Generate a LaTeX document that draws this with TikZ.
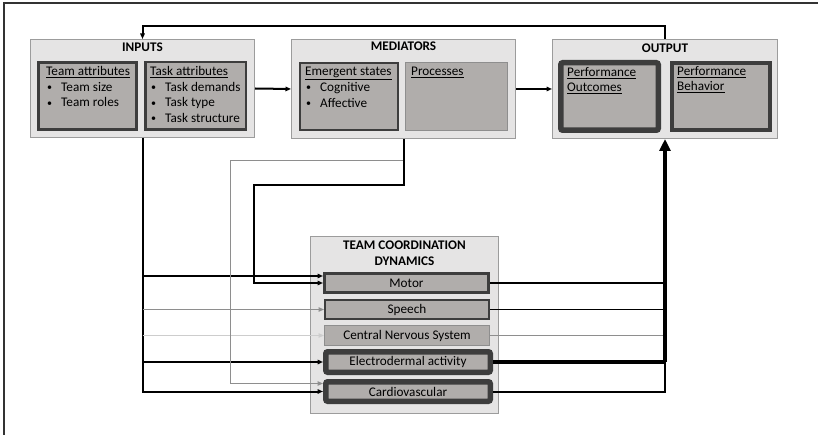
\documentclass[tikz,border=0pt]{standalone}
\usepackage{fontspec}
\setmainfont{Carlito}
\usetikzlibrary{positioning,arrows.meta}

\definecolor{grpfill}{HTML}{E5E4E4}
\definecolor{grpline}{HTML}{9C9C9C}
\definecolor{cellfill}{HTML}{B0ADAB}
\definecolor{cellline}{HTML}{3D3D3D}
\definecolor{wirelight}{HTML}{CDCDCD}
\definecolor{wiregray}{HTML}{8E8E8E}

\newcommand{\boxfont}{\fontsize{13.2}{15.7}\selectfont}
\newcommand{\litem}{\makebox[15pt][l]{\hspace{1pt}\raisebox{0.5pt}{\fontsize{10}{10}\selectfont\textbullet}}}

\tikzset{
  group/.style={draw=grpline, fill=grpfill, line width=1.2pt, anchor=north west, inner sep=0pt},
  cell/.style={draw=cellline, fill=cellfill, anchor=north west, inner sep=0pt},
  grptitle/.style={font=\boxfont\bfseries, inner sep=0pt, align=center},
  list/.style={inner sep=0pt, align=left, anchor=north west},
  tip/.style={-{Triangle[length=5.5pt,width=4.5pt]}},
  wire/.style={line width=2pt},
}

\begin{document}
\begin{tikzpicture}[x=1pt, y=-1pt, font=\boxfont]
\useasboundingbox (0,0) rectangle (818,435);
\draw[line width=1.5pt, black!80] (818,3) -- (4,3) -- (4,435);

% top row
\node[group, minimum width=223.8pt, minimum height=97.8pt] (inputs) at (30,39) {};
\node[group, minimum width=223.8pt, minimum height=98.8pt] (mediators) at (291,39) {};
\node[group, minimum width=224.8pt, minimum height=98.8pt] (output) at (552,39) {};
\node[grptitle, below=4pt of inputs.north] {INPUTS};
\node[grptitle, below=3pt of mediators.north] {MEDIATORS};
\node[grptitle, below=5pt of output.north] {OUTPUT};

\node[cell, line width=3pt, minimum width=98pt, minimum height=67pt] (team) at (37,61) {};
\node[cell, line width=2.5pt, minimum width=100.5pt, minimum height=67.5pt] (task) at (144,61) {};
\node[cell, line width=1.8pt, minimum width=98.2pt, minimum height=67.2pt] (emergent) at (299,62) {};
\node[cell, draw=wiregray, line width=1pt, minimum width=102pt, minimum height=68pt] (processes) at (405,62) {};
\node[cell, line width=5.5pt, rounded corners=2pt, minimum width=97.5pt, minimum height=67.5pt] (outcomes) at (558,60) {};
\node[cell, line width=4pt, minimum width=98pt, minimum height=67pt] (behavior) at (670,61) {};

\node[list, below right=5pt and 9pt of team.north west] {\underline{Team attributes}\\\litem Team size\\\litem Team roles};
\node[list, below right=5pt and 6pt of task.north west] {\underline{Task attributes}\\\litem Task demands\\\litem Task type\\\litem Task structure};
\node[list, below right=5pt and 6pt of emergent.north west] {\underline{Emergent states}\\\litem Cognitive\\\litem Affective};
\node[list, below right=5pt and 6pt of processes.north west] {\underline{Processes}};
\node[list, below right=7pt and 9pt of outcomes.north west] {\underline{Performance}\\\underline{Outcomes}};
\node[list, below right=5pt and 7pt of behavior.north west] {\underline{Performance}\\\underline{Behavior}};

% coordination dynamics
\node[group, minimum width=187.8pt, minimum height=176.8pt] (tcd) at (310,236) {};
\node[grptitle, below=5pt of tcd.north] {TEAM COORDINATION\\DYNAMICS};
\node[cell, line width=3pt, minimum width=164pt, minimum height=19pt] (motor) at (323,272) {Motor};
\node[cell, line width=1.6pt, minimum width=164.4pt, minimum height=19.4pt] (speech) at (324,299) {Speech};
\node[cell, draw=wiregray, line width=1pt, minimum width=165pt, minimum height=20pt] (cns) at (324,325) {Central Nervous System};
\node[cell, line width=5.5pt, rounded corners=2pt, minimum width=164.5pt, minimum height=20.5pt] (eda) at (323,349) {Electrodermal activity};
\node[cell, line width=5.5pt, rounded corners=2pt, minimum width=164.5pt, minimum height=19.5pt] (cardio) at (323,379) {Cardiovascular};

% connectors
\draw[wire, tip] (inputs.east) -- (mediators.west);
\draw[wire, tip] (mediators.east) -- (output.west);
\draw[wire, tip] (output.north) -- ++(0,-13) -| (inputs.north);

\draw[wire, tip] (inputs.south) |- (cardio.west);
\draw[wire, tip] (inputs.south) |- ([yshift=7pt]motor.west);
\draw[wire, tip] (inputs.south) |- (eda.west);
\draw[wiregray, line width=1pt, tip] (inputs.south |- speech.west) -- (speech.west);
\draw[wirelight, line width=1pt, tip] (inputs.south |- cns.west) -- (cns.west);

\draw[wiregray, line width=1pt, tip] (mediators.south) |- ++(-173,22) |- ([yshift=8pt]cardio.west);
\draw[wire, tip] (mediators.south) |- ++(-150,46) |- (motor.west);

\draw[wire] (motor.east) -- (motor.east -| output.south);
\draw[line width=1.5pt] (speech.east) -- (speech.east -| output.south);
\draw[wiregray, line width=1pt] (cns.east) -- (cns.east -| output.south);
\draw[line width=4pt] (eda.east) -- (eda.east -| output.south);
\draw[wire] (cardio.east) -| (eda.east -| output.south);
\draw[line width=4pt, -{Triangle[length=12pt,width=11pt]}] (eda.east -| output.south) -- (output.south);
\end{tikzpicture}
\end{document}
